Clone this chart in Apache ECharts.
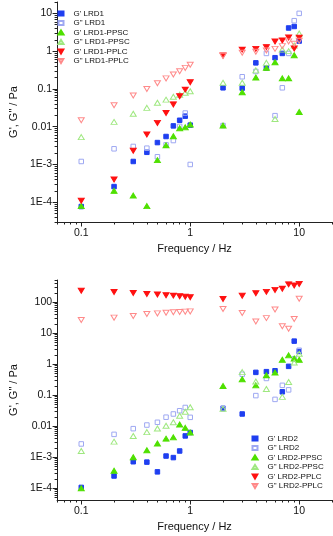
<!DOCTYPE html>
<html>
<head>
<meta charset="utf-8">
<script src="https://cdn.jsdelivr.net/npm/echarts@6/dist/echarts.min.js"></script>
<style>
html, body { margin: 0; padding: 0; background: #fff; }
#chart { width: 333px; height: 536px; }
</style>
</head>
<body>
<div id="chart"></div>
<script>
// frequencies (Hz), shared by every series
const freq = [0.1, 0.2, 0.3, 0.4, 0.5, 0.6, 0.7, 0.8, 0.9, 1, 2, 3, 4, 5, 6, 7, 8, 9, 10];

// top panel, LRD1
const gp_LRD1 = [7.7e-5, 2.6e-4, 1.2e-3, 2.1e-3, 3.8e-3, 5.5e-3, 0.0105, 0.0148, 0.019, 0.011, 0.107, 0.105, 0.49, 0.36, 0.67, 0.87, 4.1, 4.5, 1.85];
const gpp_LRD1 = [1.2e-3, 2.6e-3, 3.0e-3, 2.7e-3, 1.6e-3, 3.3e-3, 4.3e-3, 0.0102, 0.023, 1.0e-3, 0.0107, 0.21, 0.29, 0.87, 0.0196, 0.107, 0.87, 6.4, 10];
const gp_LRD1_PPSC = [7.9e-5, 2.0e-4, 1.5e-4, 7.9e-5, 1.3e-3, 3.2e-3, 5.6e-3, 9.1e-3, 9.6e-3, 0.0114, 0.0107, 0.082, 0.2, 0.36, 0.51, 0.19, 0.19, 0.78, 0.0246];
const gpp_LRD1_PPSC = [5.3e-3, 0.0134, 0.022, 0.0315, 0.043, 0.052, 0.062, 0.07, 0.079, 0.087, 0.145, 0.145, 0.31, 0.49, 0.016, 1.1, 1.0, 1.4, 2.94];
const gp_LRD1_PPLC = [1.1e-4, 4.0e-4, 2.3e-3, 6.2e-3, 0.0126, 0.023, 0.039, 0.064, 0.096, 0.15, 0.77, 1.1, 1.15, 1.28, 1.81, 1.92, 2.31, 1.18, 2.27];
const gpp_LRD1_PPLC = [0.0148, 0.037, 0.067, 0.10, 0.142, 0.19, 0.24, 0.295, 0.36, 0.435, 0.75, 0.91, 0.96, 1.04, 1.15, 1.36, 1.81, 1.57, 1.88];

// bottom panel, LRD2
const gp_LRD2 = [1.07e-4, 2.5e-4, 7.2e-4, 7.0e-4, 3.4e-4, 1.1e-3, 9.8e-4, 1.6e-3, 4.9e-3, 6.3e-3, 0.038, 0.025, 0.55, 0.58, 0.62, 0.13, 0.86, 5.6, 2.6];
const gpp_LRD2 = [2.7e-3, 5.5e-3, 8.4e-3, 0.011, 0.0135, 0.0197, 0.025, 0.0318, 0.0405, 0.0195, 0.037, 0.48, 0.098, 0.35, 0.074, 0.21, 0.15, 1.5, 2.85];
const gp_LRD2_PPSC = [1.0e-4, 3.7e-4, 1.0e-3, 1.7e-3, 2.8e-3, 4.0e-3, 4.4e-3, 0.0115, 8.9e-3, 6.3e-3, 0.2, 0.33, 0.21, 0.44, 0.54, 1.4, 1.95, 1.55, 1.4];
const gpp_LRD2_PPSC = [1.6e-3, 3.2e-3, 4.9e-3, 6.5e-3, 8.5e-3, 0.0104, 0.0135, 0.022, 0.0295, 0.041, 0.037, 0.56, 0.28, 0.16, null, 0.089, 0.27, 1.15, 2.2];
const gp_LRD2_PPLC = [237, 215, 200, 185, 180, 170, 165, 158, 152, 145, 128, 162, 197, 218, 252, 277, 380, 350, 394];
const gpp_LRD2_PPLC = [27, 32, 36, 42, 44, 46, 48, 49, 50, 51, 61, 45, 24, 31, 59, 17, 14, 29, 131];

// tick labels
const xTicks = [0.1, 1, 10];
const xTickLabels = ["0.1", "1", "10"];
const yTicksTop = [1e-4, 1e-3, 0.01, 0.1, 1, 10];
const yTickLabelsTop = ["1E-4", "1E-3", "0.01", "0.1", "1", "10"];
const yTicksBottom = [1e-4, 1e-3, 0.01, 0.1, 1, 10, 100];
const yTickLabelsBottom = ["1E-4", "1E-3", "0.01", "0.1", "1", "10", "100"];

const FONT = "'Liberation Sans', Arial, sans-serif";
const DOWN_TRI = "path://M0,0L10,0L5,8.7Z";

function labelOf(ticks, labels) {
	return function (v) {
		for (let i = 0; i < ticks.length; i++) {
			if (Math.abs(Math.log10(v) - Math.log10(ticks[i])) < 1e-6) return labels[i];
		}
		return "";
	};
}

// 1..9 x 10^n between lo and hi (all ticks, short ones)
function allTicks(lo, hi) {
	let out = [];
	for (let e = Math.floor(Math.log10(lo)); e <= Math.ceil(Math.log10(hi)); e++) {
		for (let k = 1; k <= 9; k++) {
			let v = k * Math.pow(10, e);
			if (v >= lo && v <= hi) out.push(v);
		}
	}
	return out;
}

const X_MIN = 0.06, X_MAX = 20;
const Y_TOP = [3e-5, 20];
const Y_BOT = [4.2e-5, 525];

function mainX(grid) {
	return {
		type: "log", gridIndex: grid, min: X_MIN, max: X_MAX, position: "bottom",
		axisLine: { show: true, lineStyle: { color: "#222", width: 1 } },
		axisTick: { show: true, customValues: allTicks(X_MIN, X_MAX), length: 2.5, lineStyle: { color: "#222" } },
		axisLabel: { customValues: xTicks, formatter: labelOf(xTicks, xTickLabels), fontSize: 10.5, color: "#111", fontFamily: FONT, margin: 6 },
		splitLine: { show: false },
		name: "Frequency / Hz", nameLocation: "middle", nameGap: 21,
		nameTextStyle: { fontSize: 11, color: "#111", fontFamily: FONT }
	};
}
// second axis on the same side: only the longer decade ticks
function majorX(grid) {
	return {
		type: "log", gridIndex: grid, min: X_MIN, max: X_MAX, position: "bottom",
		axisLine: { show: false },
		axisTick: { show: true, customValues: xTicks, length: 4.5, lineStyle: { color: "#222" } },
		axisLabel: { show: false },
		splitLine: { show: false }
	};
}
function mainY(grid, ext, ticks, labels) {
	return {
		type: "log", gridIndex: grid, min: ext[0], max: ext[1], position: "left",
		axisLine: { show: true, lineStyle: { color: "#222", width: 1 } },
		axisTick: { show: true, customValues: allTicks(ext[0], ext[1]), length: 2.5, lineStyle: { color: "#222" } },
		axisLabel: { customValues: ticks, formatter: labelOf(ticks, labels), fontSize: 10.5, color: "#111", fontFamily: FONT, margin: 5 },
		splitLine: { show: false },
		name: "G', G\" / Pa", nameLocation: "middle", nameGap: 31,
		nameTextStyle: { fontSize: 11, color: "#111", fontFamily: FONT }
	};
}
function majorY(grid, ext, ticks) {
	return {
		type: "log", gridIndex: grid, min: ext[0], max: ext[1], position: "left",
		axisLine: { show: false },
		axisTick: { show: true, customValues: ticks, length: 4.5, lineStyle: { color: "#222" } },
		axisLabel: { show: false },
		splitLine: { show: false }
	};
}

// marker looks, one per kind
const looks = {
	gp:        { symbol: "rect", size: 4.5, fill: "#1f3ff0", border: "#1f3ff0" },
	gpp:       { symbol: "rect", size: 4.5, fill: "rgba(255,255,255,0)", border: "#9ea8f2" },
	gp_PPSC:   { symbol: "triangle", size: [6, 5], fill: "#4fe000", border: "#4fe000" },
	gpp_PPSC:  { symbol: "triangle", size: [6, 5], fill: "rgba(255,255,255,0)", border: "#9fe880" },
	gp_PPLC:   { symbol: DOWN_TRI, size: [6, 5], fill: "#ff1010", border: "#ff1010" },
	gpp_PPLC:  { symbol: DOWN_TRI, size: [6, 5], fill: "rgba(255,255,255,0)", border: "#ff8a8a" }
};

function scatter(name, values, look, grid) {
	let l = looks[look];
	let data = [];
	freq.forEach(function (f, i) {
		if (values[i] != null) data.push([f, values[i]]);
	});
	return {
		name: name, type: "scatter", xAxisIndex: grid, yAxisIndex: grid,
		symbol: l.symbol, symbolSize: l.size,
		itemStyle: { color: l.fill, borderColor: l.border, borderWidth: 1, opacity: 1 },
		emphasis: { disabled: true },
		data: data
	};
}

const topSeries = [
	scatter("G' LRD1", gp_LRD1, "gp", 0),
	scatter('G" LRD1', gpp_LRD1, "gpp", 0),
	scatter("G' LRD1-PPSC", gp_LRD1_PPSC, "gp_PPSC", 0),
	scatter('G" LRD1-PPSC', gpp_LRD1_PPSC, "gpp_PPSC", 0),
	scatter("G' LRD1-PPLC", gp_LRD1_PPLC, "gp_PPLC", 0),
	scatter('G" LRD1-PPLC', gpp_LRD1_PPLC, "gpp_PPLC", 0)
];
const bottomSeries = [
	scatter("G' LRD2", gp_LRD2, "gp", 1),
	scatter('G" LRD2', gpp_LRD2, "gpp", 1),
	scatter("G' LRD2-PPSC", gp_LRD2_PPSC, "gp_PPSC", 1),
	scatter('G" LRD2-PPSC', gpp_LRD2_PPSC, "gpp_PPSC", 1),
	scatter("G' LRD2-PPLC", gp_LRD2_PPLC, "gp_PPLC", 1),
	scatter('G" LRD2-PPLC', gpp_LRD2_PPLC, "gpp_PPLC", 1)
];

function legendAt(left, top, series) {
	return {
		data: series.map(function (s) { return s.name; }),
		orient: "vertical", left: left, top: top, padding: 0,
		itemWidth: 5, itemHeight: 4, itemGap: 1.5,
		selectedMode: false,
		textStyle: { fontSize: 8, lineHeight: 8, color: "#111", fontFamily: FONT, padding: [0, 0, 0, 5] }
	};
}

let chart = echarts.init(document.getElementById("chart"), null, { renderer: "canvas" });
chart.setOption({
	animation: false,
	backgroundColor: "#fff",
	grid: [
		{ left: 43, right: 1, top: 2, height: 220 },
		{ left: 43, right: 1, top: 280, height: 220 }
	],
	xAxis: [mainX(0), mainX(1), majorX(0), majorX(1)],
	yAxis: [
		mainY(0, Y_TOP, yTicksTop, yTickLabelsTop),
		mainY(1, Y_BOT, yTicksBottom, yTickLabelsBottom),
		majorY(0, Y_TOP, yTicksTop),
		majorY(1, Y_BOT, yTicksBottom)
	],
	legend: [legendAt(57.5, 9.5, topSeries), legendAt(251.5, 434.5, bottomSeries)],
	series: topSeries.concat(bottomSeries)
});
</script>
</body>
</html>
